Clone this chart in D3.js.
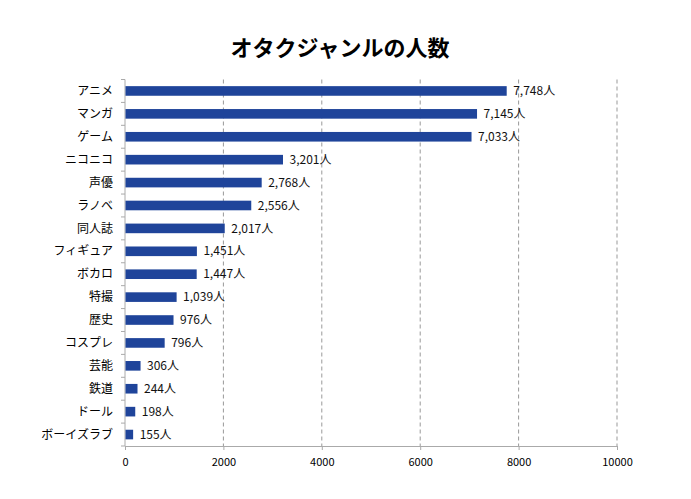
<!DOCTYPE html>
<html><head><meta charset="utf-8">
<script src="https://cdn.jsdelivr.net/npm/d3@7"></script>
<style>body{margin:0;background:#fff;}svg{display:block;}</style>
</head><body>
<script>
const categories = ["アニメ","マンガ","ゲーム","ニコニコ","声優","ラノベ","同人誌","フィギュア","ボカロ","特撮","歴史","コスプレ","芸能","鉄道","ドール","ボーイズラブ"];
const values = [7748,7145,7033,3201,2768,2556,2017,1451,1447,1039,976,796,306,244,198,155];
const xTicks = [0,2000,4000,6000,8000,10000];
const title = "オタクジャンルの人数";

const W = 691, H = 499;
const font = "'Noto Sans CJK JP', 'Noto Sans', sans-serif";
const svg = d3.select("body").append("svg").attr("width", W).attr("height", H);
svg.append("rect").attr("width", W).attr("height", H).attr("fill", "#fff");

const x = d3.scaleLinear().domain([0, 10000]).range([125, 617]);
const y = d3.scaleBand().domain(categories).range([79.5, 446]).paddingInner(0.58).paddingOuter(0.29);
const step = y.step();

svg.append("text").attr("x", 340).attr("y", 56).attr("text-anchor", "middle")
  .attr("font-family", font).attr("font-size", 22).attr("font-weight", "bold").attr("fill", "#000").text(title);

// gridlines
svg.append("g").selectAll("line").data(xTicks.filter(d => d > 0)).join("line")
  .attr("x1", d => x(d)).attr("x2", d => x(d)).attr("y1", 79.5).attr("y2", 446)
  .attr("stroke", "#999").attr("stroke-dasharray", "4,3").attr("stroke-width", 1);

// x axis
const xAxis = d3.axisBottom(x).tickValues(xTicks).tickSize(4).tickFormat(d3.format("d"));
const gx = svg.append("g").attr("transform", "translate(0,446)").call(xAxis);
gx.select(".domain").attr("stroke", "#aaa");
gx.selectAll(".tick line").attr("stroke", "#aaa");
gx.selectAll(".tick text").attr("font-family", font).attr("font-size", 11).attr("fill", "#000").attr("dy", "1.2em");

// y axis
const gy = svg.append("g").attr("transform", "translate(125,0)");
gy.append("line").attr("x1", 0).attr("x2", 0).attr("y1", 79.5).attr("y2", 446).attr("stroke", "#aaa");
const bounds = d3.range(categories.length + 1).map(i => 79.5 + i * step);
gy.selectAll(".yt").data(bounds).join("line").attr("class", "yt")
  .attr("x1", -4).attr("x2", 0).attr("y1", d => d).attr("y2", d => d).attr("stroke", "#aaa");
gy.selectAll(".yl").data(categories).join("text").attr("class", "yl")
  .attr("x", -12).attr("y", d => y(d) + y.bandwidth() / 2).attr("dy", "0.35em")
  .attr("text-anchor", "end").attr("font-family", font).attr("font-size", 12).attr("fill", "#000").text(d => d);

// bars
const data = categories.map((c, i) => ({c, v: values[i]}));
svg.append("g").selectAll("rect").data(data).join("rect")
  .attr("x", x(0) + 0.5).attr("y", d => y(d.c)).attr("width", d => x(d.v) - x(0))
  .attr("height", y.bandwidth()).attr("fill", "#1f449a");

// value labels
svg.append("g").selectAll("text").data(data).join("text")
  .attr("x", d => x(d.v) + 7).attr("y", d => y(d.c) + y.bandwidth() / 2).attr("dy", "0.35em")
  .attr("font-family", font).attr("font-size", 12).attr("fill", "#111")
  .text(d => d3.format(",")(d.v) + "人");
</script>
</body></html>
